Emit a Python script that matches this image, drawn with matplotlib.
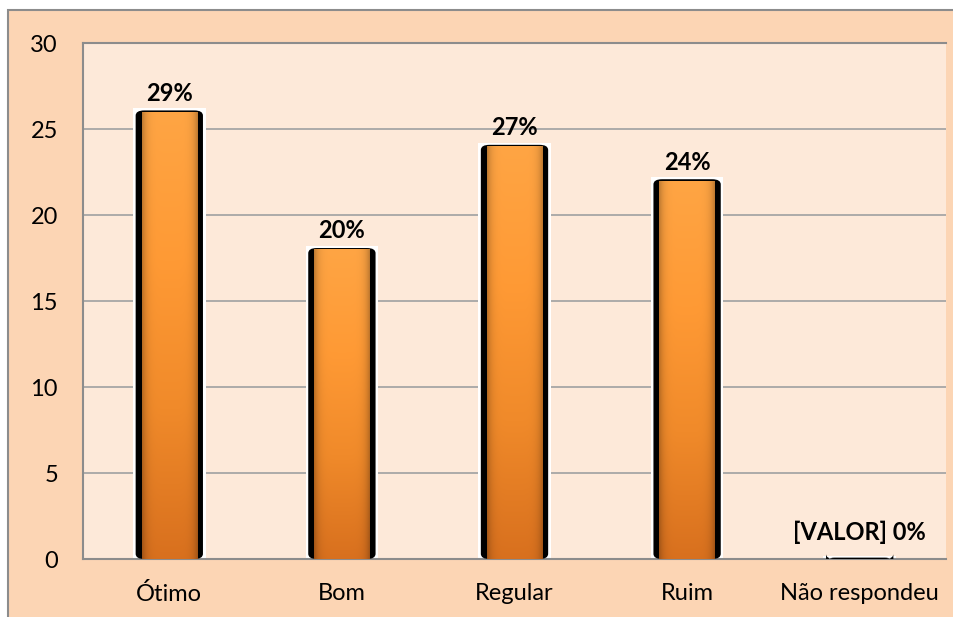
import numpy as np
from matplotlib import pyplot as plt
from matplotlib.patches import Rectangle, FancyBboxPatch
from matplotlib.colors import LinearSegmentedColormap

categories = ['Ótimo', 'Bom', 'Regular', 'Ruim', 'Não respondeu']
values = [26, 18, 24, 22, 0]
labels = ['29%', '20%', '27%', '24%', '[VALOR] 0%']
yticks = [0, 5, 10, 15, 20, 25, 30]

plt.rcParams['font.family'] = ['Lato', 'DejaVu Sans']

fig = plt.figure(figsize=(9.54, 6.17), dpi=100)
fig.patch.set_facecolor('white')

# outer chart area with gray border
W, H = 954, 617
outer = Rectangle((8 / W, -0.1), 1.1, 1.1 - 10 / H, transform=fig.transFigure,
                  facecolor='#FCD5B4', edgecolor='#8C8C8C', lw=1.5, zorder=-5)
fig.patches.append(outer)

ax = fig.add_axes([83 / W, 1 - 559 / H, (946 - 83) / W, (559 - 43) / H])
ax.set_facecolor('#FDE9D9')
ax.set_yticks(yticks)
ax.set_xticks(range(len(categories)))
ax.set_xticklabels(categories)
ax.tick_params(length=0, labelsize=17, colors='black')
ax.tick_params(axis='y', pad=18)
ax.tick_params(axis='x', pad=17)
ax.grid(axis='y', color='#A6A6A6', lw=1.3)
ax.set_axisbelow(True)
for s in ['top', 'left', 'bottom']:
    ax.spines[s].set_color('#8C8C8C')
    ax.spines[s].set_linewidth(1.5)
ax.spines['right'].set_visible(False)

cmap = LinearSegmentedColormap.from_list('bar', ['#D8701E', '#F08A2A', '#FF9A35', '#FFA544'])
grad = np.linspace(0, 1, 256).reshape(-1, 1)
# horizontal shading for a bevelled look
hshade = 1 - 0.25 * np.abs(np.linspace(-1, 1, 64)) ** 6
img = grad * np.ones((1, 64))

w_out, w_blk, w_org = 0.42, 0.39, 0.32
for i, v in enumerate(values):
    ax.add_patch(Rectangle((i - w_out / 2, 0), w_out, v + 0.2, facecolor='white',
                           edgecolor='none', zorder=2))
    ax.add_patch(FancyBboxPatch((i - w_blk / 2, 0), w_blk, v + 0.08,
                                boxstyle='round,pad=0,rounding_size=0.05',
                                mutation_aspect=6, facecolor='black',
                                edgecolor='none', zorder=3))
    if v > 0:
        rect = Rectangle((i - w_org / 2, 0), w_org, v, facecolor='none',
                         edgecolor='none', zorder=4)
        ax.add_patch(rect)
        rgba = cmap(img)
        rgba[..., :3] *= hshade[None, :, None]
        im = ax.imshow(rgba, extent=(i - w_org / 2, i + w_org / 2, 0, v),
                       origin='lower', aspect='auto', zorder=4)
        im.set_clip_path(rect)
    # the empty bar's label sits a bit higher, as in the original
    off = 5 if v > 0 else 11
    ax.annotate(labels[i], (i, v), xytext=(0, off), textcoords='offset points',
                ha='center', va='bottom', fontsize=17, fontweight='bold')

ax.set_xlim(-0.5, len(categories) - 0.5)
ax.set_ylim(0, 30)
fig.savefig('out.png', dpi=100, facecolor=fig.get_facecolor())
